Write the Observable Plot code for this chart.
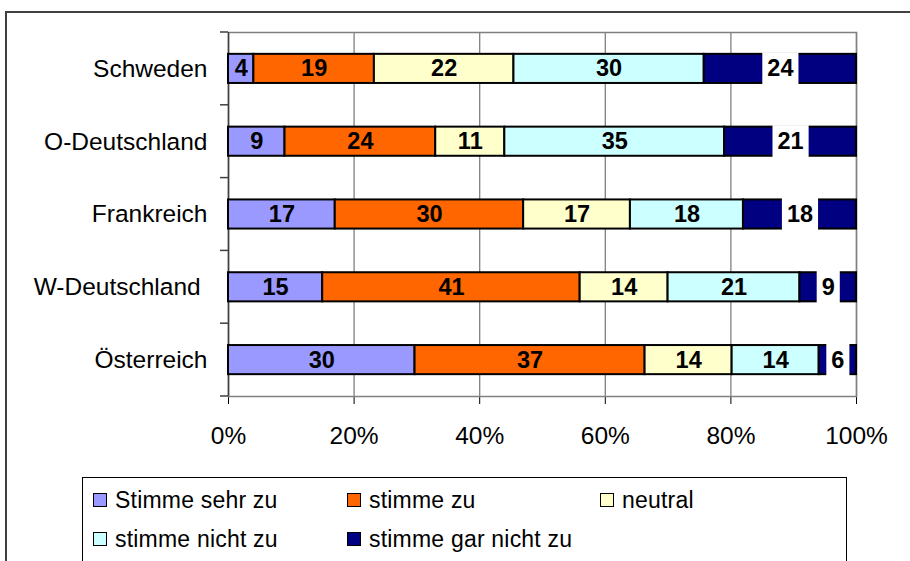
<!DOCTYPE html>
<html>
<head>
<meta charset="utf-8">
<script src="https://cdn.jsdelivr.net/npm/d3@7"></script>
<script src="https://cdn.jsdelivr.net/npm/@observablehq/plot@0.6"></script>
<style>
  html, body { margin: 0; padding: 0; background: #fff; overflow: hidden; width: 910px; height: 561px; }
  body { position: relative; font-family: "Liberation Sans", Arial, sans-serif; }
  #frame { position: absolute; left: 5px; top: 11px; width: 1000px; height: 1000px;
           border-left: 2px solid #404040; border-top: 2px solid #404040; }
  #chart { position: absolute; left: 0; top: 0; }
  #legend { position: absolute; left: 82px; top: 477px; width: 763px; height: 200px;
            border: 1.5px solid #000; background: #fff; }
  .item { position: absolute; display: flex; align-items: center; font-size: 23px; color: #000; white-space: nowrap; letter-spacing: 0.2px; }
  .sw { width: 12px; height: 12px; border: 1.5px solid #000; margin-right: 8px; }
</style>
</head>
<body>
<div id="frame"></div>
<div id="chart"></div>
<div id="legend"></div>
<script>
const countries = ["Schweden", "O-Deutschland", "Frankreich", "W-Deutschland\u00a0", "Österreich"];
const categories = ["Stimme sehr zu", "stimme zu", "neutral", "stimme nicht zu", "stimme gar nicht zu"];
const colors = ["#9999FF", "#FF6600", "#FFFFCC", "#CCFFFF", "#000080"];
const sehrZu     = [4, 9, 17, 15, 30];
const zu         = [19, 24, 30, 41, 37];
const neutral    = [22, 11, 17, 14, 14];
const nichtZu    = [30, 35, 18, 21, 14];
const garNichtZu = [24, 21, 18, 9, 6];
const xTicks = [0, 0.2, 0.4, 0.6, 0.8, 1];

const series = [sehrZu, zu, neutral, nichtZu, garNichtZu];
const last = categories[categories.length - 1];
const data = countries.flatMap((c, i) =>
  categories.map((k, j) => ({country: c, category: k, value: series[j][i]})));

const chart = Plot.plot({
  width: 910,
  height: 470,
  marginLeft: 228,
  marginRight: 54,
  marginTop: 32,
  marginBottom: 74,
  style: {fontFamily: "'Liberation Sans', Arial, sans-serif", fontSize: "24.5px", color: "#000", background: "transparent"},
  x: {domain: [0, 1], ticks: xTicks, tickFormat: d => Math.round(d * 100) + "%", tickSize: 8, tickPadding: 22, line: true, label: null},
  y: {domain: countries, paddingInner: 0.6, paddingOuter: 0.3, round: false, tickSize: 0, tickPadding: 21, label: null},
  color: {domain: categories, range: colors},
  marks: [
    Plot.frame({stroke: "#808080", strokeWidth: 1.5}),
    Plot.ruleX(xTicks.slice(1), {stroke: "#808080", strokeWidth: 1.3}),
    Plot.ruleX([0], {stroke: "#404040", strokeWidth: 1.5}),
    Plot.barX(data, Plot.stackX({x: "value", y: "country", fill: "category", offset: "normalize", stroke: "#000", strokeWidth: 2})),
    Plot.text(data, Plot.stackX({x: "value", y: "country", offset: "normalize",
      text: d => d.category === last ? "" : String(d.value),
      fill: "#000", fontWeight: "bold", fontSize: 23.5})),
    Plot.text(data, Plot.stackX({x: "value", y: "country", offset: "normalize",
      text: d => d.category === last ? String(d.value) : "",
      fill: "#000", fontWeight: "bold", fontSize: 23.5}))
  ]
});
document.getElementById("chart").appendChild(chart);

// white label boxes behind the labels of the last segment, as in the original
const ys = chart.scale("y");
const bw = ys.bandwidth || 29;
const step = ys.step || 72.8;
const textGroups = d3.select(chart).selectAll('g[aria-label="text"]').nodes();
const lastGroup = textGroups[textGroups.length - 1];
if (lastGroup) {
  d3.select(lastGroup).selectAll("text").each(function() {
    if (!this.textContent) return;
    const b = this.getBBox();
    const r = document.createElementNS("http://www.w3.org/2000/svg", "rect");
    r.setAttribute("x", b.x - 5);
    r.setAttribute("width", b.width + 10);
    r.setAttribute("y", -bw / 2 - 2);
    r.setAttribute("height", bw + 4);
    r.setAttribute("fill", "#fff");
    r.setAttribute("stroke", "none");
    const tr = this.getAttribute("transform");
    if (tr) r.setAttribute("transform", tr);
    this.parentNode.insertBefore(r, this);
  });
}

// category tick marks at band boundaries
const xs = chart.scale("x");
const x0 = xs.apply(0);
const bounds = countries.map(c => ys.apply(c) - (step - bw) / 2);
bounds.push(bounds[bounds.length - 1] + step);
const g = d3.select(chart).append("g");
bounds.forEach(yv => {
  g.append("line").attr("x1", x0 - 8).attr("x2", x0).attr("y1", yv).attr("y2", yv)
    .attr("stroke", "#404040").attr("stroke-width", 1.5);
});

// legend
const legend = document.getElementById("legend");
const colX = [10, 264, 517];
const rowY = [22, 61];
categories.forEach((k, i) => {
  const it = document.createElement("div");
  it.className = "item";
  it.style.left = colX[i % 3] + "px";
  it.style.top = (rowY[Math.floor(i / 3)] - 14) + "px";
  it.style.height = "28px";
  const sw = document.createElement("div");
  sw.className = "sw";
  sw.style.background = colors[i];
  const t = document.createElement("span");
  t.textContent = k;
  it.appendChild(sw);
  it.appendChild(t);
  legend.appendChild(it);
});
</script>
</body>
</html>
